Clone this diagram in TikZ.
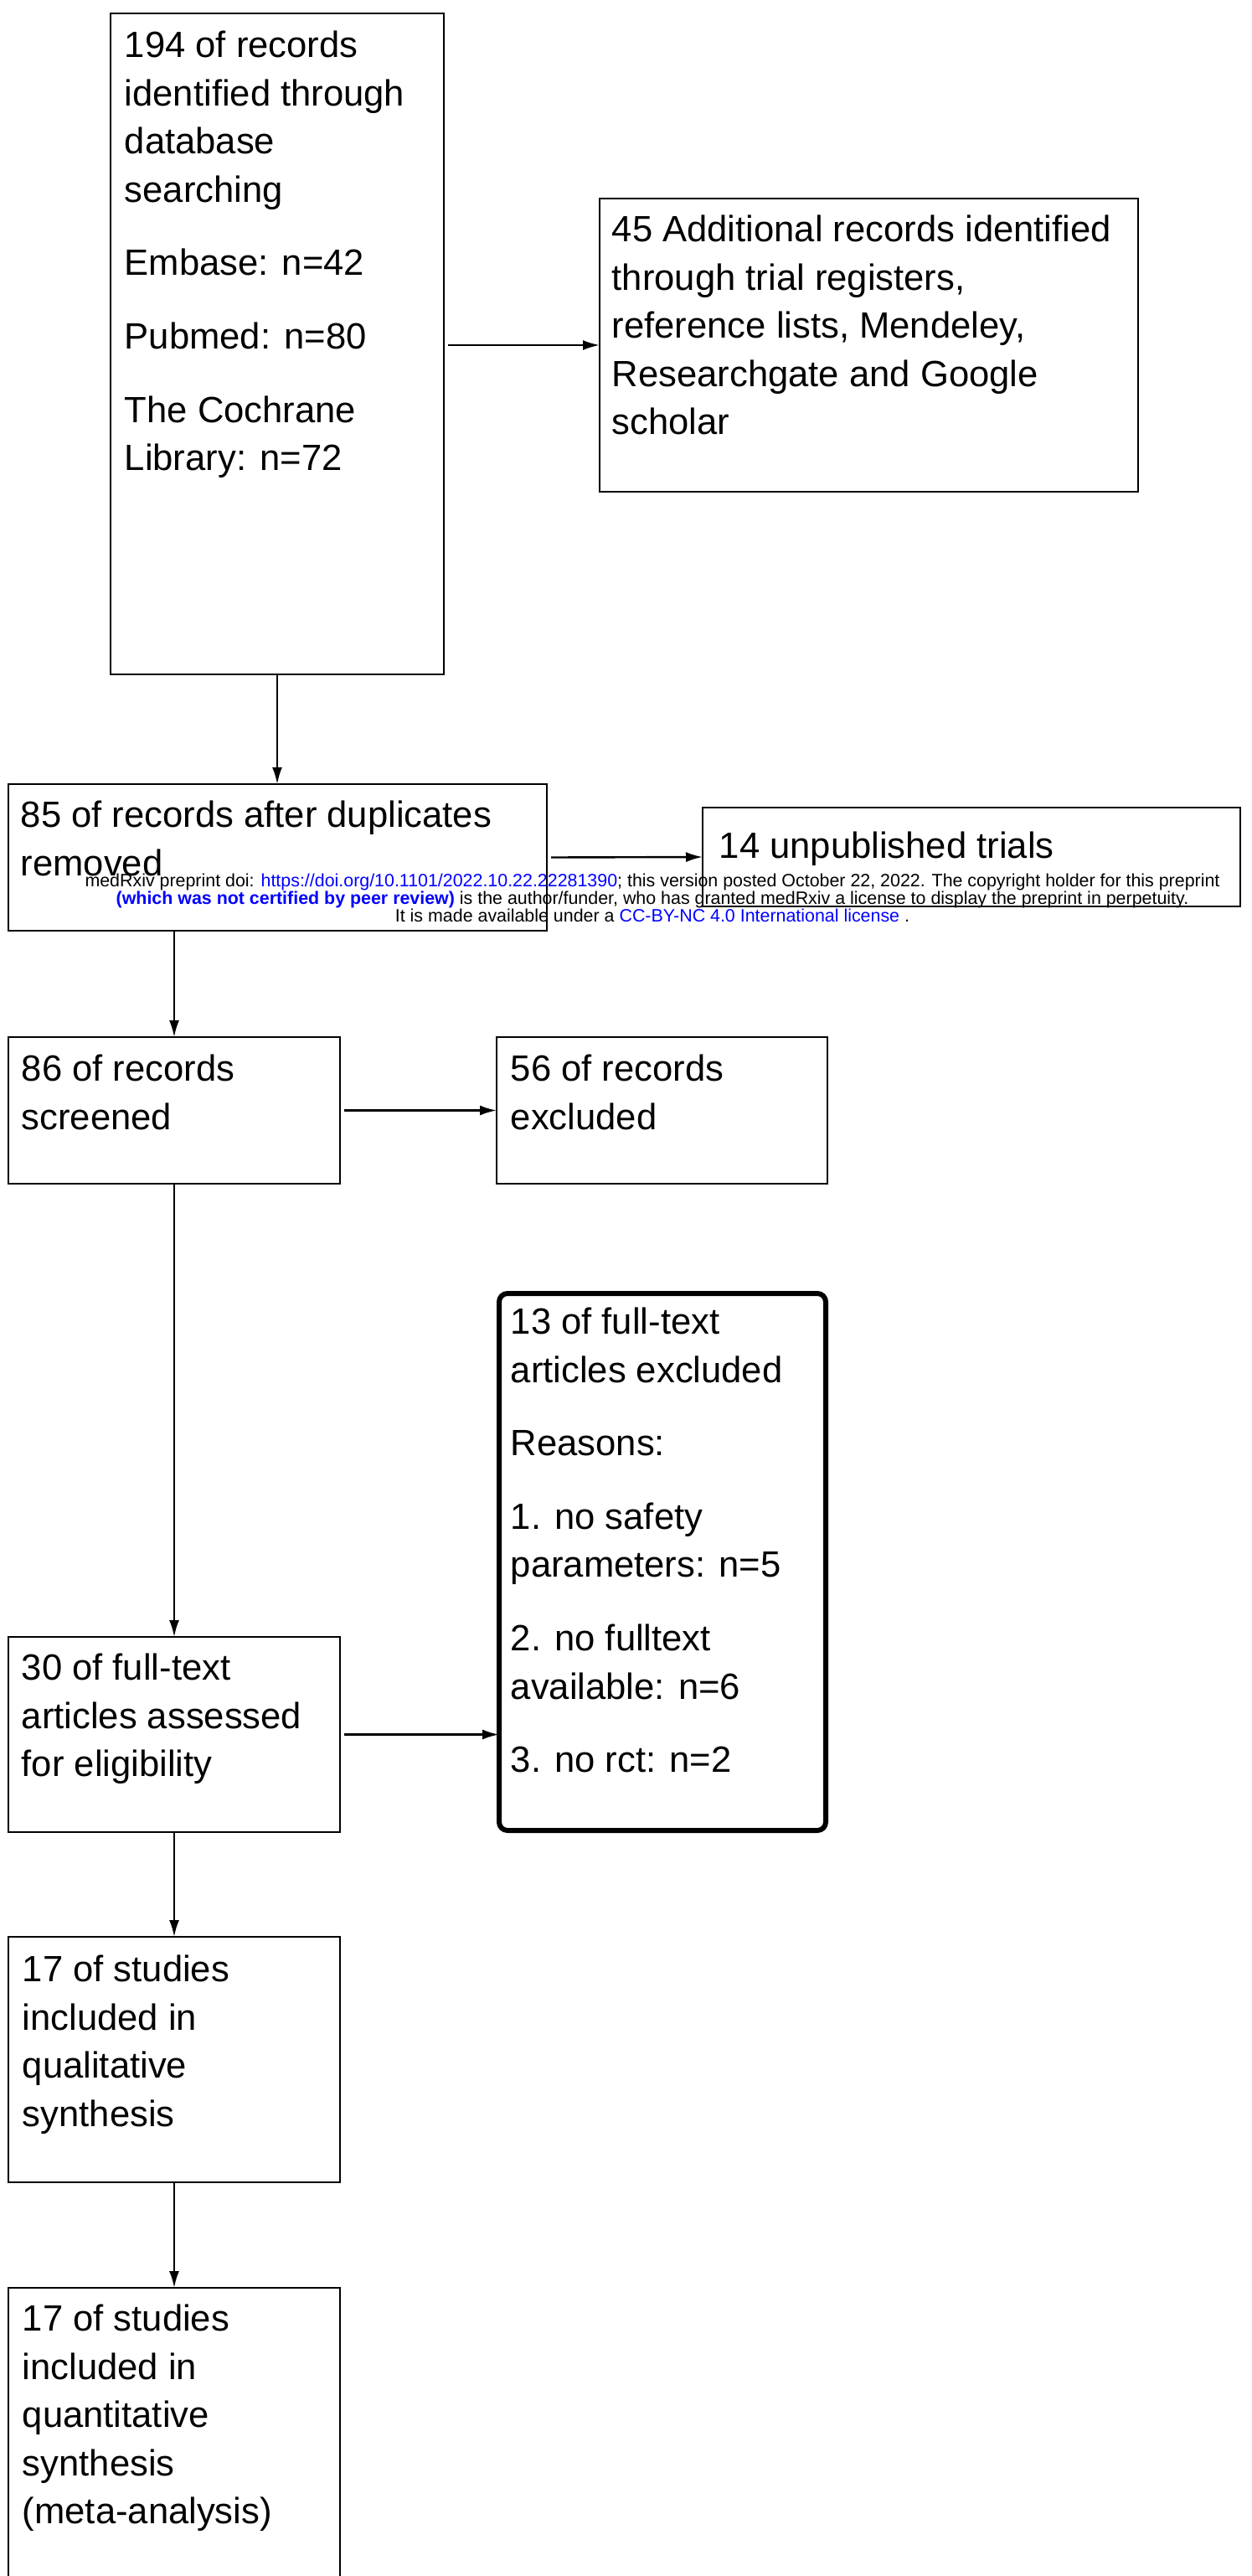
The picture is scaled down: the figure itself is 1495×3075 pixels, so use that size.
\documentclass[tikz,border=0pt]{standalone}
\usepackage{fontspec}
\setmainfont{Liberation Sans}
\usetikzlibrary{shapes.misc,arrows.meta}
\definecolor{medblue}{RGB}{0,0,255}
\newcommand{\LK}[1]{\textcolor{medblue}{#1}}

\begin{document}
\begin{tikzpicture}[x=0.25pt,y=-0.25pt,
  box/.style 2 args={draw, line width=0.6pt, chamfered rectangle,
    chamfered rectangle xsep=2.25pt, chamfered rectangle ysep=2.25pt,
    inner sep=0pt, outer sep=0pt, anchor=north west,
    minimum width=#1*0.25pt, minimum height=#2*0.25pt},
  thickbox/.style 2 args={draw, line width=1.5pt, rounded corners=2.5pt,
    inner sep=0pt, outer sep=0pt, anchor=north west,
    minimum width=#1*0.25pt, minimum height=#2*0.25pt},
  txt/.style={anchor=north west, align=left, inner sep=0pt,
    font=\fontsize{10.9pt}{14.4pt}\selectfont, execute at begin node=\strut},
  arr/.style={-{Latex[length=5pt,width=3pt]}, line width=0.6pt},
  wm/.style={anchor=north, align=center, inner sep=0pt,
    font=\fontsize{5.35pt}{5.25pt}\selectfont, execute at begin node=\strut}]

  \useasboundingbox (0,0) rectangle (1495,3075);

  % boxes
  \node[box={398}{789}] (db) at (132,16) {};
  \node[box={643}{350}] (add) at (716,237) {};
  \node[box={643}{175}] (dup) at (10,936) {};
  \node[box={642}{118}] (unpub) at (839,964) {};
  \node[box={396}{175}] (scr) at (10,1238) {};
  \node[box={395}{175}] (exc) at (593,1238) {};
  \node[thickbox={390}{641}] (ftx) at (596,1544) {};
  \node[box={396}{233}] (fta) at (10,1954) {};
  \node[box={396}{293}] (qual) at (10,2312) {};
  \node[box={396}{379}] (quant) at (10,2731) {};

  % texts (top of strut = first baseline - 40)
  \node[txt] (t-db) at (148,36) {194 of records\\ identified through\\ database\\ searching\\[7.5pt]
    Embase: n=42\\[7.5pt] Pubmed: n=80\\[7.5pt] The Cochrane\\ Library: n=72};
  \node[txt] (t-add) at (730,256) {45 Additional records identified\\ through trial registers,\\
    reference lists, Mendeley,\\ Researchgate and Google\\ scholar};
  \node[txt] (t-dup) at (24,955) {85 of records after duplicates\\ removed};
  \node[txt] (t-unpub) at (858,983) {14 unpublished trials};
  \node[txt] (t-scr) at (25,1258) {86 of records\\ screened};
  \node[txt] (t-exc) at (609,1258) {56 of records\\ excluded};
  \node[txt] (t-ftx) at (609,1560) {13 of full-text\\ articles excluded\\[7.5pt] Reasons:\\[7.5pt]
    1. no safety\\ parameters: n=5\\[7.5pt] 2. no fulltext\\ available: n=6\\[7.5pt] 3. no rct: n=2};
  \node[txt] (t-fta) at (25,1973) {30 of full-text\\ articles assessed\\ for eligibility};
  \node[txt] (t-qual) at (26,2333) {17 of studies\\ included in\\ qualitative\\ synthesis};
  \node[txt] (t-quant) at (26,2750) {17 of studies\\ included in\\ quantitative\\ synthesis\\ (meta-analysis)};

  % arrows
  \draw[arr] (db.south) -- (db.south |- dup.north); %% db->dup
  \draw[arr, shorten <=1.25pt] (db.east |- add.west) -- (add.west); %% db->add
  \draw[arr, shorten <=1.25pt] (dup.east) -- (unpub.west); %% dup->unpub
  \draw[arr] (dup.south -| scr.north) -- (scr.north); %% dup->scr
  \draw[arr, shorten <=1.25pt] (scr.east) -- (exc.west); %% scr->exc
  \draw[arr] (scr.south) -- (fta.north); %% scr->fta
  \draw[arr, shorten <=1.25pt] (fta.east) -- (fta.east -| ftx.west); %% fta->ftx
  \draw[arr] (fta.south) -- (qual.north); %% fta->qual
  \draw[arr] (qual.south) -- (quant.north); %% qual->quant

  % preprint stamp
  \node[wm] (stamp) at (779,1042) {medRxiv preprint doi: \LK{https://doi.org/10.1101/2022.10.22.22281390}; this version posted October 22, 2022. The copyright holder for this preprint\\
    \LK{\bfseries (which was not certified by peer review)} is the author/funder, who has granted medRxiv a license to display the preprint in perpetuity.\\
    It is made available under a \LK{CC-BY-NC 4.0 International license} .};

\end{tikzpicture}
\end{document}
